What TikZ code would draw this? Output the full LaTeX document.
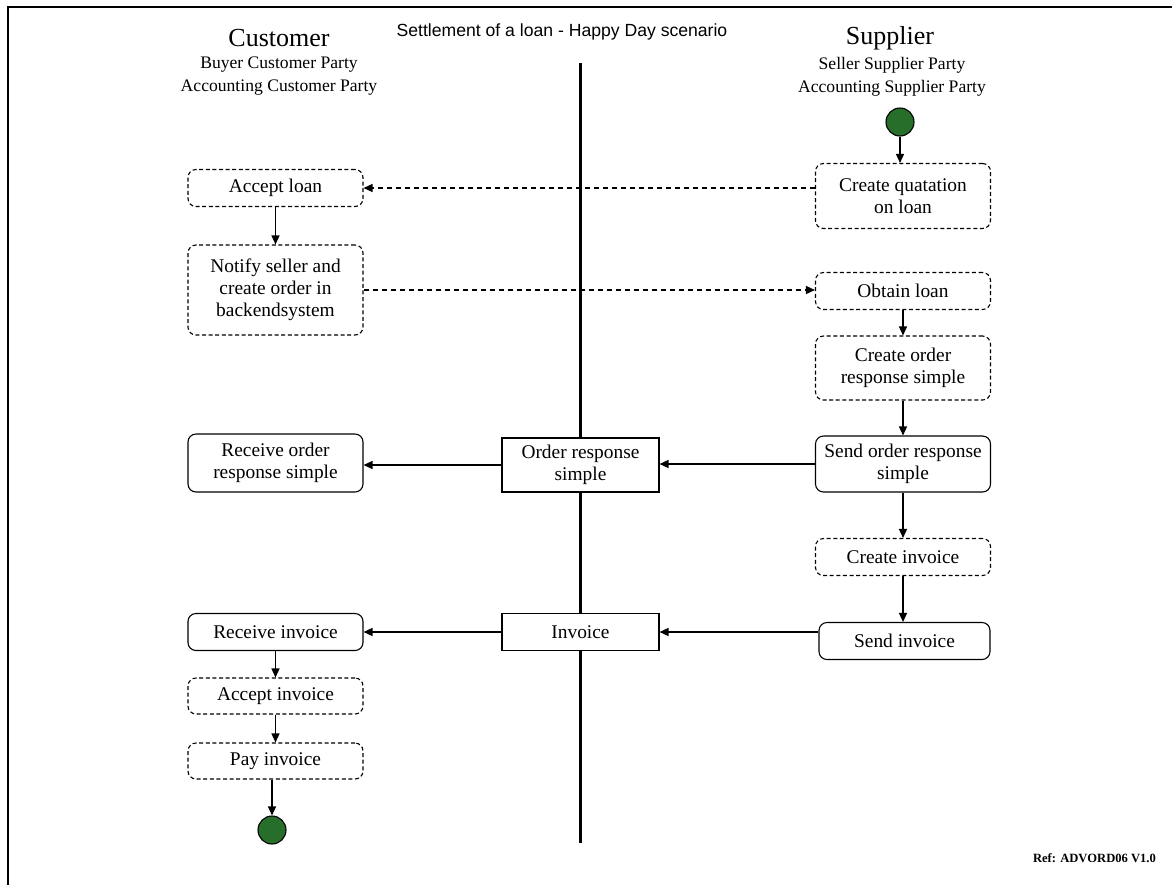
\documentclass[tikz,border=0pt]{standalone}
\usepackage{fontspec}
\setmainfont{Liberation Serif}
\newfontfamily\arialfont{Liberation Sans}
\usetikzlibrary{calc}
\usetikzlibrary{arrows.meta}
\definecolor{stategreen}{RGB}{38,110,42}

\begin{document}
\begin{tikzpicture}[x=0.5pt, y=-0.5pt, actnode/.style={draw, rounded corners=4pt, minimum width=87.5pt, align=center, inner sep=1pt, line width=0.55pt, font=\fontsize{9.7}{11}\selectfont}, actnode2/.style={actnode, dash pattern=on 2pt off 1.3pt}, msgnode/.style={draw, fill=white, minimum width=78.5pt, align=center, inner sep=1pt, line width=0.55pt, font=\fontsize{9.7}{11}\selectfont}, statenode/.style={circle, draw, fill=stategreen, minimum size=14pt, inner sep=0pt, line width=0.55pt}, flow/.style={-{Triangle[length=4.5pt,width=4pt]}, line width=0.7pt}, flow2/.style={flow, dash pattern=on 2.5pt off 2pt}]
			\useasboundingbox (0,0) rectangle (1172,885);
			% frame
			\draw[line width=1pt] (8,6.5) -- (1172,6.5);
			\draw[line width=0.6pt] (8,6) -- (8,885);

			\node[font=\arialfont\fontsize{8.8}{10}\selectfont] (title) at (562,32) {Settlement of a loan - Happy Day scenario};

			\node[font=\fontsize{13}{15}\selectfont] (cust) at (279,38) {Customer};
			\node[font=\fontsize{8.8}{11.5}\selectfont, align=center] (custparty) at (279,76) {Buyer Customer Party\\Accounting Customer Party};
			\node[font=\fontsize{13}{15}\selectfont] (supp) at (890,38) {Supplier};
			\node[font=\fontsize{8.8}{11.5}\selectfont, align=center] (suppparty) at (892,77) {Seller Supplier Party\\Accounting Supplier Party};

			\coordinate (ltop) at (580.5,63);
			\coordinate (lbot) at (580.5,843);
			\draw[line width=1.35pt] (ltop) -- (lbot);

			% supplier side
			\node[statenode] (start) at (900,122) {};
			\node[actnode2, minimum height=32.5pt] (quote) at (903,196) {Create quatation\\on loan};
			\node[actnode2, minimum height=18.5pt] (obtain) at (903,291) {Obtain loan};
			\node[actnode2, minimum height=32pt] (crresp) at (903,368) {Create order\\response simple};
			\node[actnode, minimum height=28pt] (sendresp) at (903,464) {Send order response\\simple};
			\node[actnode2, minimum height=18.5pt] (crinv) at (903,557) {Create invoice};
			\node[actnode, minimum height=18.5pt, minimum width=85.5pt] (sendinv) at (904.5,641) {Send invoice};

			% messages
			\node[msgnode, minimum height=27pt] (ordresp) at (580.5,465) {Order response\\simple};
			\node[msgnode, minimum height=18.5pt] (invoice) at (580.5,632) {Invoice};

			% customer side
			\node[actnode2, minimum height=18.5pt] (accloan) at (275.5,188) {Accept loan};
			\node[actnode2, minimum height=45pt] (notify) at (275.5,290) {Notify seller and\\create order in\\backendsystem};
			\node[actnode, minimum height=29pt] (recvresp) at (275.5,463) {Receive order\\response simple};
			\node[actnode, minimum height=18.5pt] (recvinv) at (275.5,632) {Receive invoice};
			\node[actnode2, minimum height=18pt] (accinv) at (275.5,696) {Accept invoice};
			\node[actnode2, minimum height=18pt] (payinv) at (275.5,761) {Pay invoice};
			\node[statenode] (end) at (272,830) {};

			\node[font=\bfseries\fontsize{6.3}{7}\selectfont, anchor=east] (ref) at (1163,858) {Ref: ADVORD06 V1.0};

			\draw[flow] (start) -- (start |- quote.north);
			\draw[flow2] (quote.west |- accloan) -- (accloan.east);
			\draw[flow] (accloan) -- (notify);
			\draw[flow2] (notify.east) -- (notify -| obtain.west);
			\draw[flow] (obtain) -- (crresp);
			\draw[flow] (crresp) -- (sendresp);
			\draw[flow] (sendresp.west) -- (sendresp -| ordresp.east);
			\draw[flow] (ordresp.west) -- (ordresp -| recvresp.east);
			\draw[flow] (sendresp) -- (crinv);
			\draw[flow] (crinv) -- (crinv |- sendinv.north);
			\draw[flow] (invoice -| sendinv.west) -- (invoice.east);
			\draw[flow] (invoice.west) -- (recvinv.east);
			\draw[flow] (recvinv) -- (accinv);
			\draw[flow] (accinv) -- (payinv);
			\draw[flow] (payinv.south -| end) -- (end);

		\end{tikzpicture}
\end{document}
